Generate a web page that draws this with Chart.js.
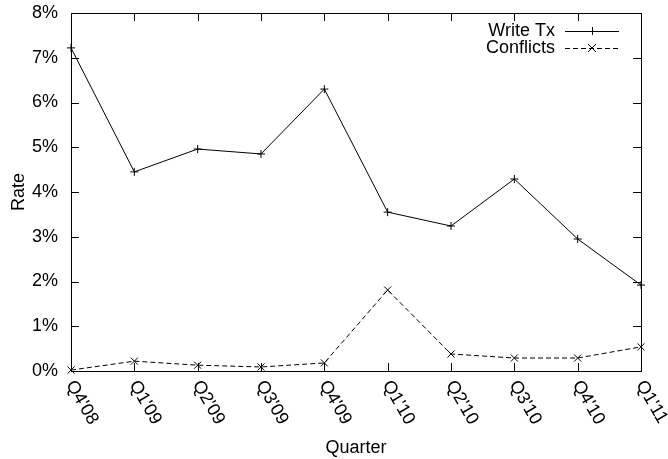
<!DOCTYPE html>
<html>
<head>
<meta charset="utf-8">
<script src="https://cdn.jsdelivr.net/npm/chart.js@4"></script>
<style>
  html, body { margin: 0; padding: 0; background: #fff; }
  #wrap { width: 668px; height: 459px; }
</style>
</head>
<body>
<div id="wrap"><canvas id="rateChart" width="668" height="459"></canvas></div>
<script>
// data
const quarters = ["Q4'08", "Q1'09", "Q2'09", "Q3'09", "Q4'09", "Q1'10", "Q2'10", "Q3'10", "Q4'10", "Q1'11"];
const writeTx = [7.22, 4.45, 4.96, 4.85, 6.30, 3.55, 3.24, 4.29, 2.95, 1.92];
const conflicts = [0.02, 0.22, 0.13, 0.09, 0.18, 1.81, 0.38, 0.29, 0.29, 0.54];
const yTicks = [0, 1, 2, 3, 4, 5, 6, 7, 8];

const FONT = 'Liberation Sans, Arial, Helvetica, sans-serif';
Chart.defaults.font.family = FONT;
Chart.defaults.font.size = 18;
Chart.defaults.color = '#000';

// gnuplot-like frame: box, inward ticks on all four sides, rotated x labels, legend
const gnuplotFrame = {
    id: 'gnuplotFrame',
    afterDraw(chart) {
        const ctx = chart.ctx;
        const a = chart.chartArea;
        const xs = chart.scales.x, ys = chart.scales.y;
        const tl = 8;
        ctx.save();
        ctx.strokeStyle = '#000';
        ctx.lineWidth = 1;
        ctx.setLineDash([]);
        ctx.strokeRect(a.left + 0.5, a.top + 0.5, a.right - a.left, a.bottom - a.top);
        ctx.beginPath();
        quarters.forEach((q, i) => {
            const px = Math.round(xs.getPixelForValue(i)) + 0.5;
            ctx.moveTo(px, a.bottom); ctx.lineTo(px, a.bottom - tl);
            ctx.moveTo(px, a.top); ctx.lineTo(px, a.top + tl);
        });
        yTicks.forEach(v => {
            const py = Math.round(ys.getPixelForValue(v)) + 0.5;
            ctx.moveTo(a.left, py); ctx.lineTo(a.left + tl, py);
            ctx.moveTo(a.right, py); ctx.lineTo(a.right - tl, py);
        });
        ctx.stroke();

        // x labels, rotated clockwise and hanging from the tick
        ctx.fillStyle = '#000';
        ctx.font = '18px ' + FONT;
        ctx.textAlign = 'left';
        ctx.textBaseline = 'middle';
        quarters.forEach((q, i) => {
            const px = xs.getPixelForValue(i);
            ctx.save();
            ctx.translate(px - 1, a.bottom + 11);
            ctx.rotate(Math.PI / 3);
            ctx.fillText(q, 0, 0);
            ctx.restore();
        });

        // legend: text right-aligned, sample to the right
        const entries = chart.data.datasets;
        entries.forEach((ds, i) => {
            const y = 31 + i * 17;
            ctx.textAlign = 'right';
            ctx.fillText(ds.label, 555, y);
            ctx.beginPath();
            ctx.setLineDash(ds.borderDash || []);
            ctx.moveTo(565, y + 0.5); ctx.lineTo(619, y + 0.5);
            ctx.stroke();
            ctx.setLineDash([]);
            ctx.beginPath();
            const cx = 592, r = 4;
            if (ds.pointStyle === 'cross') {
                ctx.moveTo(cx - r, y + 0.5); ctx.lineTo(cx + r, y + 0.5);
                ctx.moveTo(cx + 0.5, y - r); ctx.lineTo(cx + 0.5, y + r);
            } else {
                ctx.moveTo(cx - r, y - r); ctx.lineTo(cx + r, y + r);
                ctx.moveTo(cx - r, y + r); ctx.lineTo(cx + r, y - r);
            }
            ctx.stroke();
        });
        ctx.restore();
    }
};

const ctxRate = document.getElementById('rateChart').getContext('2d');
new Chart(ctxRate, {
    type: 'line',
    data: {
        labels: quarters,
        datasets: [
            {
                label: 'Write Tx',
                data: writeTx,
                borderColor: '#000',
                borderWidth: 1,
                pointStyle: 'cross',
                pointRadius: 4,
                pointBorderColor: '#000',
                pointBorderWidth: 1,
                tension: 0,
                clip: false
            },
            {
                label: 'Conflicts',
                data: conflicts,
                borderColor: '#000',
                borderWidth: 1,
                borderDash: [5, 3],
                pointStyle: 'crossRot',
                pointRadius: 5,
                pointBorderColor: '#000',
                pointBorderWidth: 1,
                tension: 0,
                clip: false
            }
        ]
    },
    options: {
        responsive: false,
        animation: false,
        layout: { padding: { left: 0, right: 27, top: 13, bottom: 0 } },
        plugins: {
            legend: { display: false },
            tooltip: { enabled: false }
        },
        scales: {
            x: {
                type: 'category',
                offset: false,
                grid: { display: false, drawTicks: false },
                border: { display: false },
                ticks: { display: false },
                title: { display: true, text: 'Quarter', padding: { top: 0, bottom: 0 } },
                afterFit(scale) {
                    scale.height = 88;
                    scale.paddingLeft = 0;
                    scale.paddingRight = 0;
                }
            },
            y: {
                min: 0,
                max: 8,
                grid: { display: false, drawTicks: false },
                border: { display: false },
                ticks: {
                    stepSize: 1,
                    padding: 13,
                    callback: v => v + '%'
                },
                title: { display: true, text: 'Rate', padding: { top: 8, bottom: 8 } },
                afterFit(scale) {
                    scale.width = 71;
                    scale.paddingTop = 0;
                    scale.paddingBottom = 0;
                }
            }
        }
    },
    plugins: [gnuplotFrame]
});
</script>
</body>
</html>
